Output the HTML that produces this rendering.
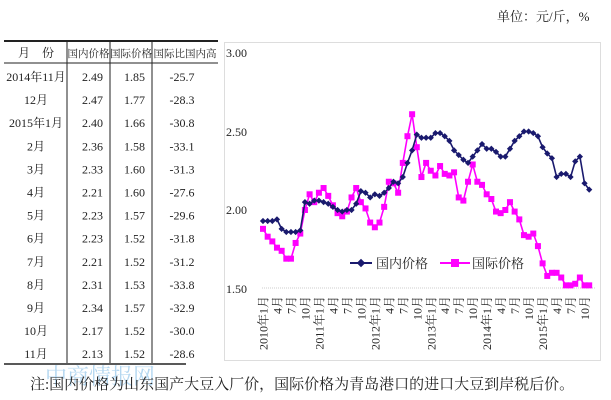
<!DOCTYPE html>
<html><head><meta charset="utf-8"><style>
body{margin:0;background:#fff;width:611px;height:400px;overflow:hidden}
svg{display:block}
text{font-family:"Liberation Serif","Noto Serif CJK SC",serif;fill:#222}
</style></head><body>
<svg id="s" width="611" height="400" xmlns="http://www.w3.org/2000/svg">
<text x="497" y="21" font-size="13">单位：元/斤，%</text>
<rect x="224.5" y="42.5" width="376" height="318" fill="none" stroke="#ddd"/>
<line x1="4" y1="41" x2="218" y2="41" stroke="#222" stroke-width="2"/>
<line x1="4" y1="63" x2="218" y2="63" stroke="#222" stroke-width="1"/>
<line x1="67" y1="41" x2="67" y2="363" stroke="#222"/>
<line x1="110" y1="41" x2="110" y2="363" stroke="#222"/>
<line x1="152" y1="41" x2="152" y2="363" stroke="#222"/>
<line x1="4" y1="364" x2="186" y2="364" stroke="#222" stroke-width="1.5"/>
<g font-size="12" id="tbl"></g>
<g font-size="12">
<text x="226" y="57">3.00</text>
<text x="226" y="136">2.50</text>
<text x="226" y="214">2.00</text>
<text x="226" y="293">1.50</text>
</g>
<line x1="262" y1="288" x2="596" y2="288" stroke="#ccc" stroke-dasharray="1,1"/>
<g id="xl" font-size="12"></g>
<g id="ser"></g>
<line x1="350" y1="263" x2="372" y2="263" stroke="#1a1a6e" stroke-width="2"/>
<rect x="358" y="260" width="6" height="6" fill="#1a1a6e" transform="rotate(45 361 263)"/>
<text x="376" y="268" font-size="13">国内价格</text>
<line x1="440" y1="263" x2="470" y2="263" stroke="#f0f" stroke-width="2"/>
<rect x="451" y="259" width="8" height="8" fill="#f0f"/>
<text x="472" y="268" font-size="13">国际价格</text>
<text x="45" y="384" font-size="22" opacity="0.45" style="fill:#5aa8e0">中商情报网</text>
<text x="30" y="389" font-size="15">注:国内价格为山东国产大豆入厂价，国际价格为青岛港口的进口大豆到岸税后价。</text>
</svg>
<script>
var NS="http://www.w3.org/2000/svg";
function el(p,t,a,txt){var e=document.createElementNS(NS,t);for(var k in a)e.setAttribute(k,a[k]);if(txt!=null)e.textContent=txt;p.appendChild(e);return e;}
var tb=document.getElementById('tbl');
var hdr=["月　份","国内价格","国际价格","国际比国内高"],hx=[36,88.5,131,185],hs=[12,10.5,10.5,10.5];
hdr.forEach(function(h,i){el(tb,'text',{x:hx[i],y:57,'text-anchor':'middle','font-size':hs[i]},h)});
var rows=[["2014年11月","2.49","1.85","-25.7"],["12月","2.47","1.77","-28.3"],["2015年1月","2.40","1.66","-30.8"],["2月","2.36","1.58","-33.1"],["3月","2.33","1.60","-31.3"],["4月","2.21","1.60","-27.6"],["5月","2.23","1.57","-29.6"],["6月","2.23","1.52","-31.8"],["7月","2.21","1.52","-31.2"],["8月","2.31","1.53","-33.8"],["9月","2.34","1.57","-32.9"],["10月","2.17","1.52","-30.0"],["11月","2.13","1.52","-28.6"]];
rows.forEach(function(r,i){var y=81+i*23.1;
el(tb,'text',{x:36,y:y,'text-anchor':'middle'},r[0]);
el(tb,'text',{x:103,y:y,'text-anchor':'end'},r[1]);
el(tb,'text',{x:145,y:y,'text-anchor':'end'},r[2]);
el(tb,'text',{x:182,y:y,'text-anchor':'middle'},r[3]);});
var d=[1.93,1.93,1.93,1.94,1.88,1.86,1.86,1.86,1.87,2.05,2.04,2.06,2.06,2.05,2.04,2.02,2.00,1.99,2.00,2.00,2.04,2.12,2.11,2.08,2.10,2.09,2.11,2.14,2.18,2.17,2.21,2.30,2.38,2.48,2.46,2.46,2.46,2.49,2.49,2.47,2.44,2.38,2.35,2.32,2.30,2.34,2.38,2.42,2.39,2.39,2.37,2.34,2.34,2.39,2.44,2.47,2.50,2.50,2.49,2.47,2.40,2.36,2.33,2.21,2.23,2.23,2.21,2.31,2.34,2.17,2.13];
var f=[1.88,1.83,1.80,1.76,1.74,1.69,1.69,1.79,1.85,2.00,2.10,2.05,2.11,2.14,2.09,2.03,1.98,1.96,1.99,2.08,2.14,2.05,2.01,1.92,1.89,1.92,2.02,2.18,2.17,2.11,2.30,2.47,2.61,2.40,2.21,2.30,2.25,2.22,2.28,2.23,2.22,2.24,2.08,2.06,2.18,2.29,2.18,2.16,2.10,2.07,1.99,1.98,2.00,2.05,1.99,1.94,1.84,1.83,1.85,1.77,1.66,1.58,1.60,1.60,1.57,1.52,1.52,1.53,1.57,1.52,1.52];
function X(i){return 263+i*4.66}function Y(v){return 53+(3-v)*157}
var g=document.getElementById('ser');
function pts(a){return a.map(function(v,i){return X(i).toFixed(1)+','+Y(v).toFixed(1)}).join(' ')}
el(g,'polyline',{points:pts(f),fill:'none',stroke:'#f0f','stroke-width':1.6});
f.forEach(function(v,i){el(g,'rect',{x:X(i)-3,y:Y(v)-3,width:6,height:6,fill:'#f0f'})});
el(g,'polyline',{points:pts(d),fill:'none',stroke:'#1a1a6e','stroke-width':1.6});
d.forEach(function(v,i){el(g,'rect',{x:X(i)-2.2,y:Y(v)-2.2,width:4.4,height:4.4,fill:'#1a1a6e',transform:'rotate(45 '+X(i)+' '+Y(v)+')'})});
var xl=document.getElementById('xl');
for(var i=0;i<71;i+=3){var m=i%12,t=m==0?(2010+i/12)+'年1月':(m+1)+'月';
var x=X(i)+4.5;el(xl,'text',{x:0,y:0,'text-anchor':'end',transform:'translate('+x+',296) rotate(-90)'},t);}
</script>
</body></html>
